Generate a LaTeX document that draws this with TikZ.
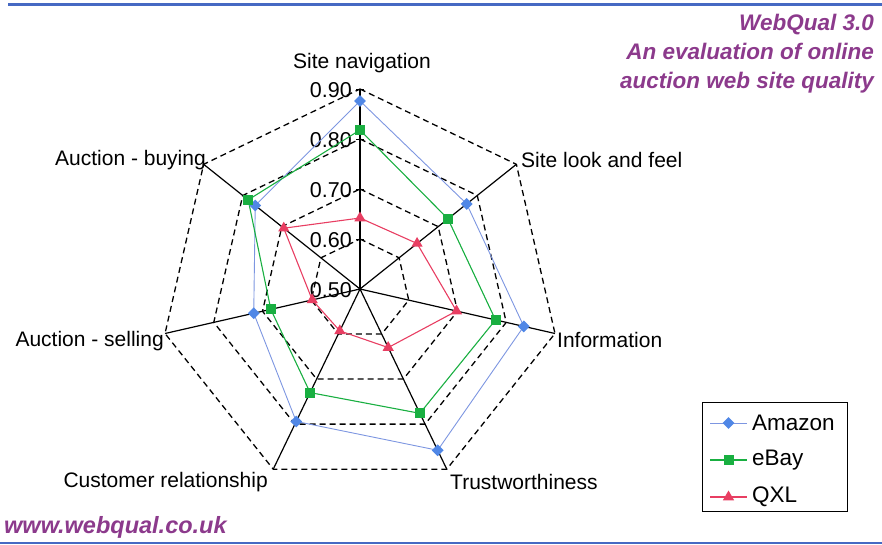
\documentclass[tikz,border=0pt]{standalone}
\usepackage{fontspec}
\setmainfont{Liberation Sans}
\usetikzlibrary{calc,shapes.geometric}
\definecolor{amz}{RGB}{80,135,230}
\definecolor{amzl}{RGB}{125,150,225}
\definecolor{eby}{RGB}{25,175,65}
\definecolor{qxl}{RGB}{232,62,98}
\definecolor{wq}{RGB}{140,58,140}
\definecolor{rulec}{RGB}{70,105,195}
\begin{document}
\begin{tikzpicture}[x=1pt,y=-1pt,
  axisline/.style={black, line width=1.2pt},
  ring/.style={black, dash pattern=on 6pt off 4pt, line width=1.3pt},
  lab/.style={font=\fontsize{21}{24}\selectfont, inner sep=0pt},
  tlab/.style={font=\fontsize{21.5}{24}\selectfont, inner sep=0pt, anchor=east},
  lglab/.style={font=\fontsize{22.5}{24}\selectfont, inner sep=0pt, anchor=west},
  amzline/.style={amzl, line width=0.9pt},
  ebyline/.style={eby, line width=1.1pt},
  qxlline/.style={qxl, line width=1.1pt},
  amzmark/.style={diamond, fill=amz, inner sep=0pt, minimum width=12pt, minimum height=12pt},
  ebymark/.style={rectangle, fill=eby, inner sep=0pt, minimum size=10pt},
  qxlmark/.style={regular polygon, regular polygon sides=3, fill=qxl, inner sep=0pt, minimum size=13pt},
  wqtext/.style={text=wq, font=\fontsize{22.5}{29}\selectfont\bfseries\itshape, inner sep=0pt}]
\useasboundingbox (0,0) rectangle (882,545);
% rules
\draw[rulec, line width=3pt] (8,5) -- (882,5);
\draw[rulec, line width=2pt] (0,543) -- (882,543);
\coordinate (C) at (360,289);
% rings
\foreach \r in {50,100,150,200} {
  \draw[ring] ($(C)+(-90:\r)$) \foreach \k in {1,...,6} { -- ($(C)+({-90+\k*360/7}:\r)$) } -- cycle;
}
% axes
\foreach \k in {0,...,6} {
  \coordinate (ax\k) at ($(C)+({-90+\k*360/7}:200)$);
  \draw[axisline] (C) -- (ax\k);
}
% ticks and tick labels
\foreach \t [count=\i from 0] in {0.50,0.60,0.70,0.80,0.90} {
  \coordinate (tk\i) at ($(C)+(0,-50*\i)$);
  \draw[black, line width=0.8pt] ($(tk\i)+(-4,0)$) -- ($(tk\i)+(4,0)$);
  \node[tlab] (tl\i) at ($(tk\i)+(-8,1)$) {\t};
}
% data
\foreach \v [count=\i from 0] in {0.876,0.773,0.836,0.858,0.794,0.718,0.768} {
  \coordinate (A\i) at ($(C)+({-90+\i*360/7}:{(\v-0.5)*500})$);
}
\foreach \v [count=\i from 0] in {0.818,0.725,0.778,0.776,0.730,0.683,0.786} {
  \coordinate (E\i) at ($(C)+({-90+\i*360/7}:{(\v-0.5)*500})$);
}
\foreach \v [count=\i from 0] in {0.642,0.646,0.698,0.630,0.593,0.598,0.695} {
  \coordinate (Q\i) at ($(C)+({-90+\i*360/7}:{(\v-0.5)*500})$);
}
\draw[amzline] (A0) -- (A1) -- (A2) -- (A3) -- (A4) -- (A5) -- (A6) -- cycle;
\draw[ebyline] (E0) -- (E1) -- (E2) -- (E3) -- (E4) -- (E5) -- (E6) -- cycle;
\draw[qxlline] (Q0) -- (Q1) -- (Q2) -- (Q3) -- (Q4) -- (Q5) -- (Q6) -- cycle;
\foreach \i in {0,...,6} {
  \node[amzmark] (mA\i) at (A\i) {};
  \node[ebymark] (mE\i) at (E\i) {};
  \node[qxlmark] (mQ\i) at (Q\i) {};
}
% axis labels
\node[lab] (lsn) at (362,63) {Site navigation};
\node[lab, anchor=west] (lslf) at (521,160) {Site look and feel};
\node[lab, anchor=west] (linf) at (557,340) {Information};
\node[lab, anchor=west] (ltw) at (450,482) {Trustworthiness};
\node[lab, anchor=east] (lcr) at (268,482) {Customer relationship};
\node[lab, anchor=east] (las) at (164,341) {Auction - selling};
\node[lab, anchor=east] (lab) at (206,160) {Auction - buying};
% title
\node[wqtext, anchor=north east, align=right] (title) at (874,14) {WebQual 3.0\\An evaluation of online\\auction web site quality};
\node[wqtext, font=\fontsize{23.5}{29}\selectfont\bfseries\itshape, anchor=west] (url) at (4,527) {www.webqual.co.uk};
% legend
\draw[black, line width=0.9pt] (702,402) rectangle (847,511);
\foreach \n/\s/\m/\y [count=\i] in {Amazon/amzline/amzmark/423, eBay/ebyline/ebymark/460, QXL/qxlline/qxlmark/497} {
  \coordinate (lg\i a) at (710,\y);
  \coordinate (lg\i b) at (747,\y);
  \draw[\s] (lg\i a) -- (lg\i b);
  \node[\m] (lgm\i) at (728.5,\y) {};
  \node[lglab] (lgt\i) at (752,\y) {\n};
}
\end{tikzpicture}
\end{document}
